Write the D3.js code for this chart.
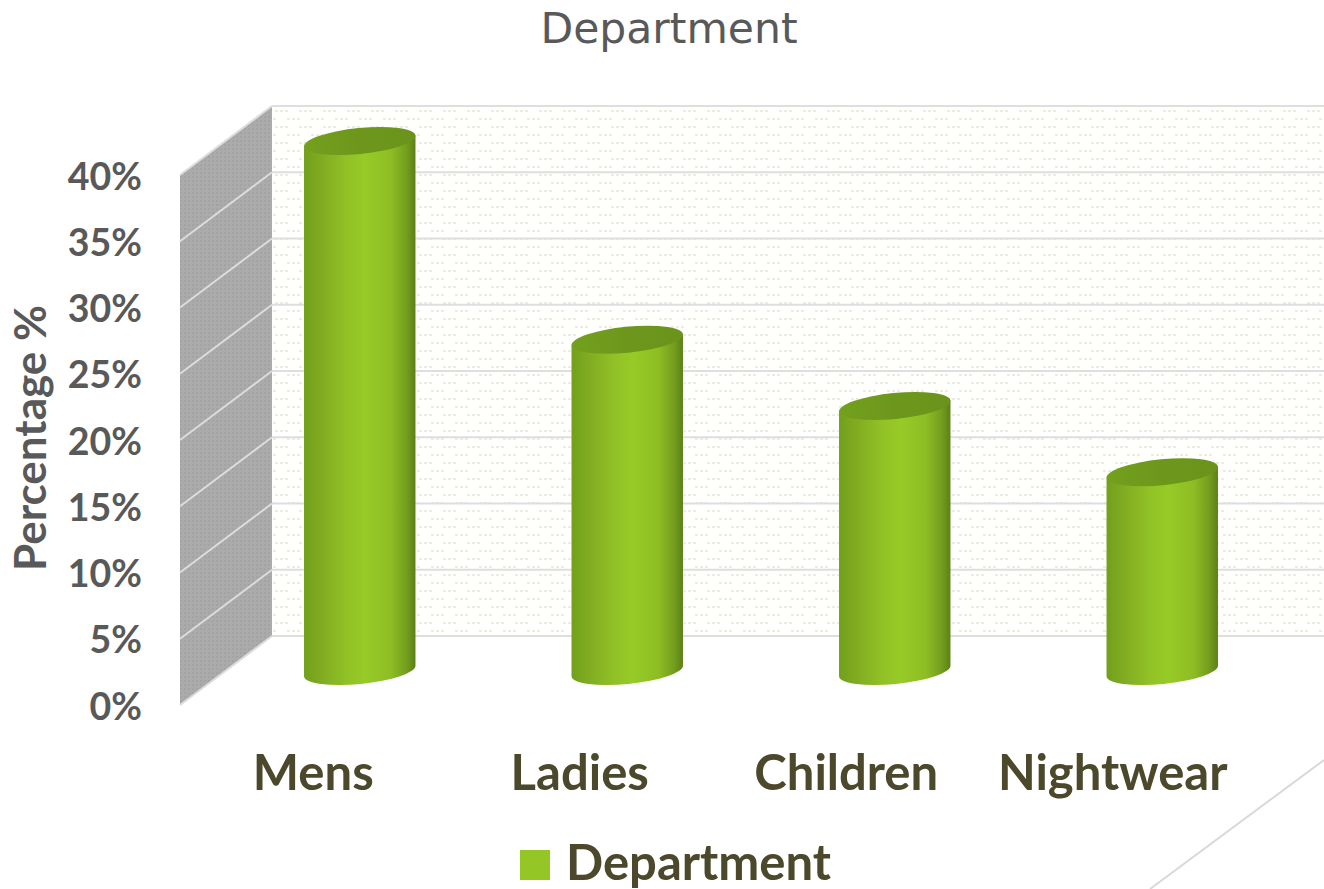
<!DOCTYPE html>
<html>
<head>
<meta charset="utf-8">
<script src="https://cdn.jsdelivr.net/npm/d3@7"></script>
<style>
  html, body { margin: 0; padding: 0; background: #fff; overflow: hidden; }
  svg { display: block; }
  text { font-family: Lato, sans-serif; }
</style>
</head>
<body>
<div id="bar-chart"></div>
<script>
const categories = ["Mens", "Ladies", "Children", "Nightwear"];
const values = [40, 25, 20, 15];
const yTicks = [0, 5, 10, 15, 20, 25, 30, 35, 40];
const seriesName = "Department";

const width = 1324, height = 889;
const depth = { x: -92, y: 69 }; // side wall goes from back to front by this much

let svg = d3.select("#bar-chart")
    .append("svg")
    .attr("width", width)
    .attr("height", height)
    .attr("viewBox", [0, 0, width, height]);

// y on the back wall, the front edge and halfway for the cylinders
let yBack = d3.scaleLinear().domain([0, 40]).range([636, 106]);
let yFront = d3.scaleLinear().domain([0, 40]).range([636 + depth.y, 106 + depth.y]);
let yBar = d3.scaleLinear().domain([0, 40]).range([671, 141]);

let x = d3.scaleBand().domain(categories).range([226, 1296]);
let xLabel = d3.scaleBand().domain(categories).range([180, 1246]);

let defs = svg.append("defs");

let backDots = defs.append("pattern")
    .attr("id", "backDots")
    .attr("patternUnits", "userSpaceOnUse")
    .attr("width", 24).attr("height", 16)
    .attr("x", 272).attr("y", 106);
backDots.append("rect").attr("width", 24).attr("height", 16).attr("fill", "#fffffe");
[[3, 4], [8, 4], [13, 4], [15, 12], [20, 12], [1, 12]].forEach(p => {
    backDots.append("rect")
        .attr("x", p[0]).attr("y", p[1])
        .attr("width", 3).attr("height", 2)
        .attr("fill", "#ecece0");
});

let sideDots = defs.append("pattern")
    .attr("id", "sideDots")
    .attr("patternUnits", "userSpaceOnUse")
    .attr("width", 4).attr("height", 4);
sideDots.append("rect").attr("width", 4).attr("height", 4).attr("fill", "#ababab");
sideDots.append("rect").attr("width", 2).attr("height", 2).attr("fill", "#a3a3a3");

let bodyGrad = defs.append("linearGradient").attr("id", "bodyGrad");
[[0, "#72a01d"], [0.15, "#80ab21"], [0.38, "#90c126"], [0.55, "#97cb27"],
 [0.78, "#8dbd24"], [0.92, "#739e1e"], [1, "#5c8017"]].forEach(s => {
    bodyGrad.append("stop").attr("offset", s[0]).attr("stop-color", s[1]);
});

let topGrad = defs.append("linearGradient").attr("id", "topGrad");
[[0, "#73a01e"], [0.5, "#6d971c"], [1, "#6a931b"]].forEach(s => {
    topGrad.append("stop").attr("offset", s[0]).attr("stop-color", s[1]);
});

// walls
svg.append("rect")
    .attr("x", 272).attr("y", yBack(40))
    .attr("width", width - 272)
    .attr("height", yBack(0) - yBack(40))
    .attr("fill", "url(#backDots)");

svg.append("path")
    .attr("d", `M272,${yBack(40)}L${272 + depth.x},${yFront(40)}L${272 + depth.x},${yFront(0)}L272,${yBack(0)}Z`)
    .attr("fill", "url(#sideDots)");

// gridlines on both walls
svg.append("g").selectAll("line")
    .data(yTicks)
    .join("line")
    .attr("x1", 272).attr("x2", width)
    .attr("y1", d => yBack(d)).attr("y2", d => yBack(d))
    .attr("stroke", "#dedede").attr("stroke-width", 2);

svg.append("g").selectAll("line")
    .data(yTicks)
    .join("line")
    .attr("x1", 272).attr("x2", 272 + depth.x)
    .attr("y1", d => yBack(d)).attr("y2", d => yFront(d))
    .attr("stroke", "#dcdcdc").attr("stroke-width", 2);

// y axis labels
let yAxis = svg.append("g")
    .attr("transform", "translate(142,2)")
    .call(d3.axisLeft(yFront).tickValues(yTicks).tickSize(0).tickPadding(0).tickFormat(d => d + "%"));
yAxis.select(".domain").remove();
yAxis.selectAll("text")
    .attr("fill", "#595959")
    .style("font-family", "Lato, sans-serif")
    .style("font-weight", 700)
    .style("font-size", "37.5px");

svg.append("text")
    .attr("transform", "translate(46,438) rotate(-90)")
    .attr("text-anchor", "middle")
    .attr("fill", "#595959")
    .style("font-weight", 700)
    .style("font-size", "44px")
    .text("Percentage %");

// cylinders
const rx = 56, ry = 13, tilt = -5.7;
const dx = rx * Math.cos(tilt * Math.PI / 180), dy = rx * Math.sin(tilt * Math.PI / 180);
const rows = categories.map((c, i) => ({ c: c, v: values[i] }));

let bar = svg.selectAll(".bar")
    .data(rows)
    .join("g")
    .attr("class", "bar");

bar.append("path")
    .attr("fill", "url(#bodyGrad)")
    .attr("d", d => {
        const cx = x(d.c) + x.bandwidth() / 2, top = yBar(d.v), base = yBar(0);
        return `M${cx - dx},${top - dy}L${cx - dx},${base - dy}` +
            `A${rx},${ry} ${tilt} 0 0 ${cx + dx},${base + dy}` +
            `L${cx + dx},${top + dy}Z`;
    });

bar.append("ellipse")
    .attr("fill", "url(#topGrad)")
    .attr("rx", rx).attr("ry", ry)
    .attr("transform", d => `translate(${x(d.c) + x.bandwidth() / 2},${yBar(d.v)}) rotate(${tilt})`);

// category labels
let xAxis = svg.append("g")
    .attr("transform", "translate(0,755)")
    .call(d3.axisBottom(xLabel).tickSize(0).tickPadding(0));
xAxis.select(".domain").remove();
xAxis.selectAll("text")
    .attr("fill", "#4b482c")
    .style("font-family", "Lato, sans-serif")
    .style("font-weight", 700)
    .style("font-size", "49px");

// title
svg.append("text")
    .attr("x", 669).attr("y", 43)
    .attr("text-anchor", "middle")
    .attr("fill", "#595959")
    .style("font-family", "'DejaVu Sans', sans-serif")
    .style("font-size", "42.5px")
    .text(seriesName);

// legend
svg.append("rect")
    .attr("x", 520).attr("y", 850)
    .attr("width", 30).attr("height", 30)
    .attr("fill", "#94c725");

svg.append("text")
    .attr("x", 566).attr("y", 880)
    .attr("fill", "#4b482c")
    .style("font-weight", 700)
    .style("font-size", "49px")
    .text(seriesName);

// slide decoration, bottom right
svg.append("line")
    .attr("x1", width).attr("y1", 760)
    .attr("x2", 1150).attr("y2", 889)
    .attr("stroke", "#d9d9d9").attr("stroke-width", 2);
</script>
</body>
</html>
